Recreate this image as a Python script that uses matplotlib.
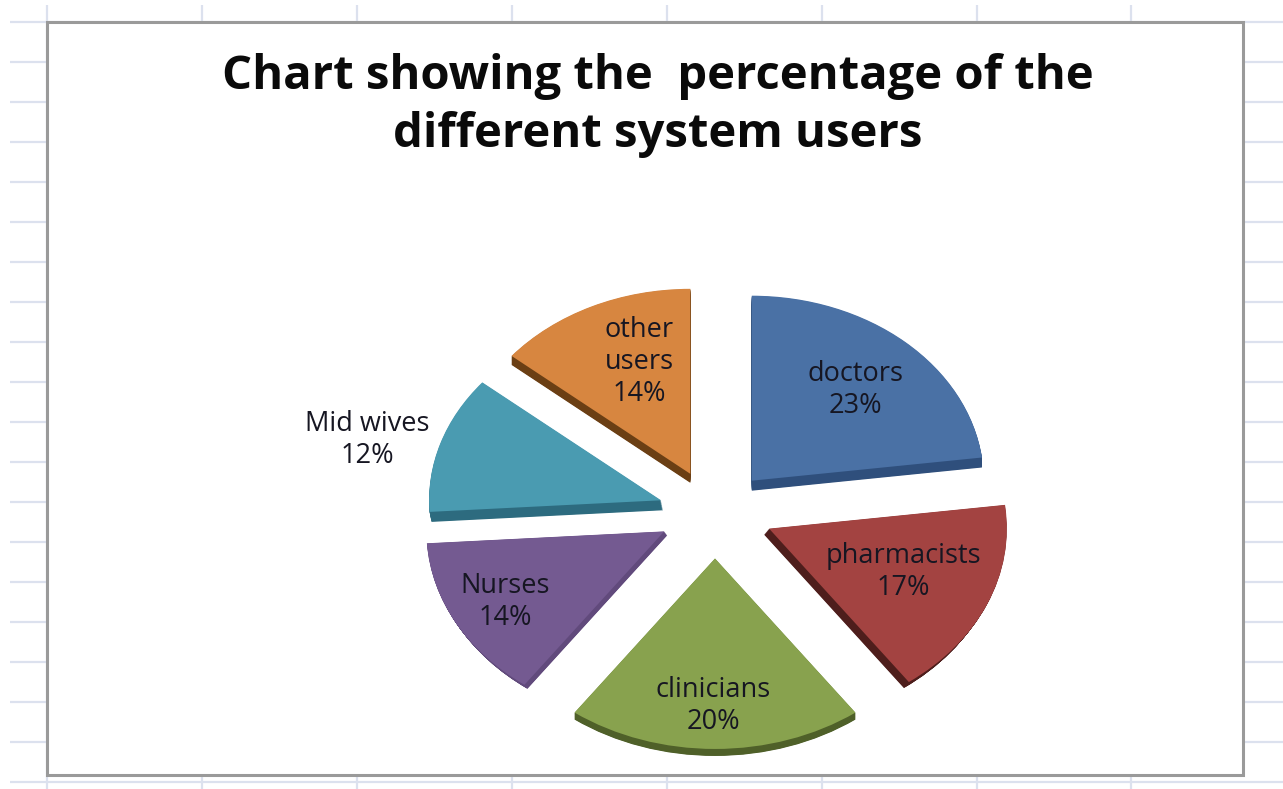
import matplotlib
matplotlib.use("Agg")
import matplotlib.pyplot as plt
from matplotlib.patches import Rectangle

categories = ["doctors", "pharmacists", "clinicians", "Nurses", "Mid wives", "other\nusers"]
percentages = [23, 17, 20, 14, 12, 14]
title_lines = ["Chart showing the  percentage of the", "different system users"]

face_colors = ["#4A71A5", "#A34341", "#88A24E", "#745A91", "#4A9BB1", "#D78640"]
side_colors = ["#2F4F7C", "#4E1E1C", "#4F6029", "#614A7C", "#2D6B7F", "#6B3F14"]

W, H = 1283, 789
RX, RY = 232, 185          # pixel radii of the tilted pie
CX, CY = 715, 514          # pixel centre of the pie
EXPLODE = 0.24
LIM = 1.6

# Perspective: slices nearer the viewer are a little larger, and each slice's
# thickness runs in its own direction (pixels right, pixels down)
radius_scale = [1.0, 1.025, 1.03, 1.025, 1.0, 1.0]
depth_px = [(0, 10), (-5, 6), (0, 7), (3, 4), (2, 10), (0, 9)]
# Small extra placement of each slice (pixels right, pixels up)
nudge_px = [(0, 0), (3, 3), (0, 0), (-2, 4), (-1, 0), (-1, 0)]

label_centres = [(855, 390), (903, 572), (713, 706), (505, 602), (367, 440), (639, 362)]

fig = plt.figure(figsize=(W / 100, H / 100), dpi=100, facecolor="white")

# Worksheet gridlines and the chart frame, in pixel coordinates
bg = fig.add_axes([0, 0, 1, 1], zorder=0)
bg.set_xlim(0, W)
bg.set_ylim(H, 0)
bg.axis("off")
grid_col = "#DCE1EE"
for y in range(22, H, 40):
    bg.plot([10, W], [y, y], color=grid_col, lw=1.6, solid_capstyle="butt")
for x in [47, 202, 357, 512, 667, 822, 977, 1131]:
    bg.plot([x, x], [5, H], color=grid_col, lw=1.6, solid_capstyle="butt")
bg.add_patch(Rectangle((47, 22), 1196, 753, facecolor="white",
                       edgecolor="#9A9A9A", lw=2.2, zorder=3))

# Exploded pie squashed into an ellipse, with darker copies below for thickness
ax = fig.add_axes([(CX - LIM * RX) / W, 1 - (CY + LIM * RY) / H,
                   2 * LIM * RX / W, 2 * LIM * RY / H], zorder=1)
explode = [EXPLODE] * len(percentages)
common = dict(explode=explode, startangle=90, counterclock=False,
              wedgeprops=dict(linewidth=0), normalize=True)


def place(wedges, depth_fraction):
    """Resize and shift the slices of one pie layer."""
    for w, scale, (dx, dy), (nx, ny) in zip(wedges, radius_scale, depth_px, nudge_px):
        cx, cy = w.center
        w.set_center((cx + (nx + dx * depth_fraction) / RX,
                      cy + (ny - dy * depth_fraction) / RY))
        w.set_radius(scale)


steps = 16
for i in range(steps, 0, -1):
    wedges, _ = ax.pie(percentages, colors=side_colors, **common)
    place(wedges, i / steps)
wedges, _ = ax.pie(percentages, colors=face_colors, **common)
place(wedges, 0)
ax.set_aspect("auto")
ax.set_xlim(-LIM, LIM)
ax.set_ylim(-LIM, LIM)
ax.axis("off")
ax.patch.set_alpha(0)

# Title
for line, y in zip(title_lines, [77, 135]):
    fig.text(658 / W, 1 - y / H, line, ha="center", va="center",
             fontsize=34, fontweight="bold", family="Open Sans", color="#0A0A0A")

# Data labels
for name, pct, (x, y) in zip(categories, percentages, label_centres):
    fig.text(x / W, 1 - y / H, f"{name}\n{pct}%", ha="center", va="center",
             fontsize=19.5, family="Open Sans", color="#161622", linespacing=1.2)

fig.savefig("out.png", dpi=100)
